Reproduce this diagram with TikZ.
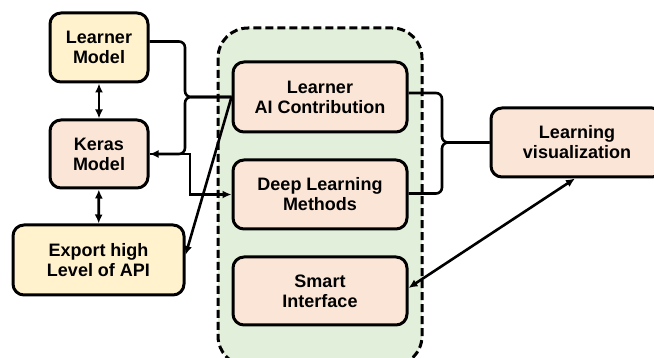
\documentclass[tikz,border=0pt]{standalone}
\usepackage{fontspec}
\setmainfont{Liberation Sans}
\usepackage{xcolor}
\usetikzlibrary{arrows.meta,positioning,calc}
\definecolor{boxyellow}{HTML}{FFF2CC}
\definecolor{boxpeach}{HTML}{FBE5D6}
\definecolor{boxgreen}{HTML}{E2EFDA}

\begin{document}
\begin{tikzpicture}[x=1pt,y=-1pt,
    blk/.style={draw, line width=3pt, rounded corners=11pt, align=center,
      font=\fontsize{18}{20}\selectfont\bfseries, inner sep=0pt},
    yblk/.style={blk, fill=boxyellow},
    pblk/.style={blk, fill=boxpeach},
    conn/.style={line width=2.6pt},
    arr/.style={conn, -{Latex[length=9pt,width=8pt]}},
    darr/.style={conn, {Latex[length=9pt,width=8pt]}-{Latex[length=9pt,width=8pt]}}]
  \clip (0,0) rectangle (654,358);
  % dashed group
  \draw[fill=boxgreen, line width=3pt, dash pattern=on 8pt off 4pt, rounded corners=30pt]
    (218,28) rectangle (422,366);
  \node[yblk, minimum width=98pt, minimum height=69pt] (lm) at (99,47.5) {Learner\\Model};
  \node[pblk, minimum width=98pt, minimum height=68pt] (km) at (99,154) {Keras\\Model};
  \node[yblk, minimum width=171pt, minimum height=70pt] (ex) at (98.5,260) {Export high\\Level of API};
  \node[pblk, minimum width=174pt, minimum height=70pt] (ai) at (320,97) {Learner\\AI Contribution};
  \node[pblk, minimum width=174pt, minimum height=69pt] (dl) at (320,194.5) {Deep Learning\\Methods};
  \node[pblk, minimum width=174pt, minimum height=68pt] (si) at (320,291) {Smart\\Interface};
  \node[pblk, minimum width=172pt, minimum height=69pt] (lv) at (577,142.5) {Learning\\visualization};
  % left side
  \draw[darr] (lm) -- (km);
  \draw[darr] (km) -- (ex);
  \draw[conn, rounded corners=6pt] ([yshift=6pt]lm.east) -| (185,97) -- (ai.west);
  \draw[arr, rounded corners=6pt] (ai.west) -- (185,97) |- (km.east);
  \draw[arr] (km.east) -- (190,154) |- (dl.west);
  \draw[arr] (ai.west) -- ([yshift=5pt]ex.east);
  % right side
  \draw[conn, rounded corners=6pt] ([yshift=4pt]ai.east) -| (442,142.5) -- (lv.west);
  \draw[conn, rounded corners=6pt] ([yshift=1pt]dl.east) -| (442,142.5) -- (lv.west);
  \draw[darr] ([yshift=3pt]si.east) -- ([xshift=-2pt]lv.south);
\end{tikzpicture}
\end{document}
